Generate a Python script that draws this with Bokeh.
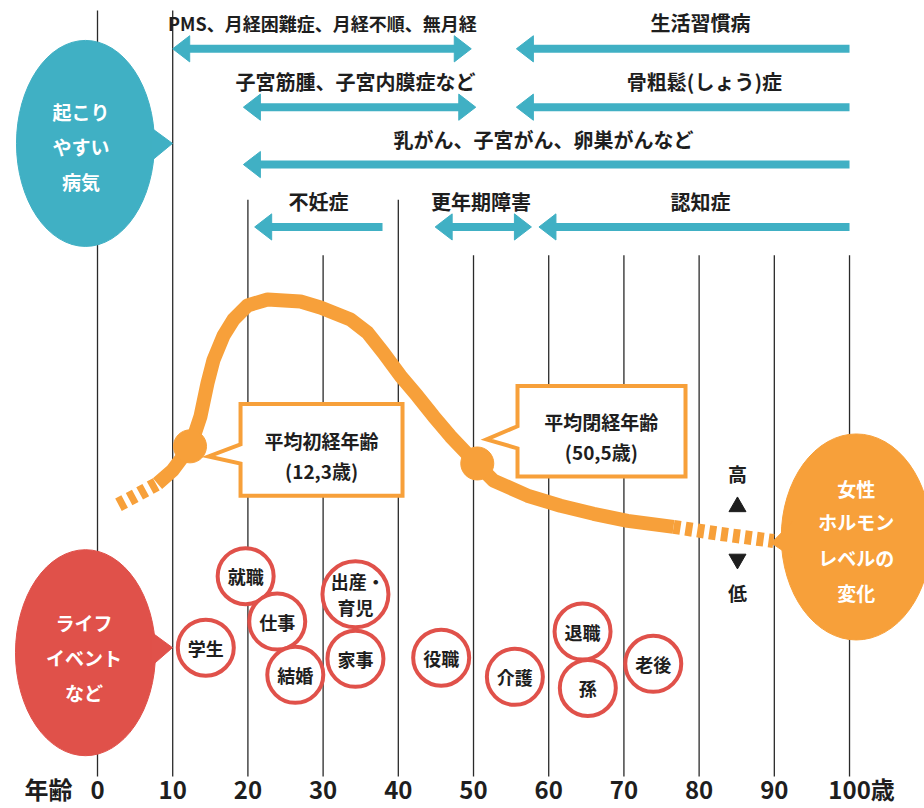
from bokeh.plotting import figure
from bokeh.models import Range1d, FixedTicker
from bokeh.embed import file_html
from bokeh.resources import INLINE
from bokeh.core.properties import value

FONT = "Noto Sans CJK JP"
TEAL = "#40B0C4"
ORANGE = "#F7A03A"
RED = "#E0514A"
INK = "#1E1E1E"
GRID = "#2A2A2A"

PX = 7.52  # screen pixels per year (for converting style sizes)

# ---------------- data ----------------
grid_ages = [0, 10, 20, 30, 40, 50, 60, 70, 80, 90, 100]
grid_top = [10, 10, 198, 253, 198, 253, 253, 253, 253, 253, 253]
grid_bottom = [773] * 11

tick_pos = [-6.5, 0, 10, 20, 30, 40, 50, 60, 70, 80, 90, 101.6]
tick_text = ["年齢", "0", "10", "20", "30", "40", "50", "60", "70", "80", "90", "100歳"]

# diseases: arrows (start age, end age, row level, double-headed)
arrow_start = [10.0, 55.7, 19.4, 55.7, 19.4, 20.9, 44.9, 58.7]
arrow_end = [49.7, 100, 50.3, 100, 100, 37.9, 57.7, 100]
arrow_row = [48, 48, 106, 106, 163, 225, 225, 225]
arrow_both = [True, False, True, False, False, False, True, False]

disease_names = ["PMS、月経困難症、月経不順、無月経", "生活習慣病",
                 "子宮筋腫、子宮内膜症など", "骨粗鬆(しょう)症",
                 "乳がん、子宮がん、卵巣がんなど",
                 "不妊症", "更年期障害", "認知症"]
disease_x = [29.9, 80.2, 34.3, 80.7, 59.3, 29.4, 51.0, 80.2]
disease_y = [22, 22, 80, 80, 138, 200, 200, 200]
disease_fs = ["18px", "20px", "20px", "20px", "20px", "20px", "20px", "20px"]

# female hormone level curve (age, level on chart scale)
dash_l_age = [2.79, 5.05, 7.98]
dash_l_lvl = [501, 492, 480]
curve_age = [7.98, 9.97, 12.37, 13.70, 14.63, 15.43, 16.76, 18.09, 19.95, 22.61,
             27.0, 29.65, 33.64, 35.90, 38.03, 40.29, 42.55, 44.68, 46.94, 50.0,
             52.66, 57.18, 61.57, 65.96, 70.48, 76.60]
curve_lvl = [480, 467, 443, 413, 380, 357, 333, 317, 303, 297,
             299, 305, 317, 330, 350, 373, 393, 413, 433, 457,
             477, 492, 502, 510, 517, 523]
dash_r_age = [76.60, 82.85, 89.89]
dash_r_lvl = [523, 530, 537]

mark_age = [12.3, 50.5]
mark_lvl = [443, 460]

# life events
event_names = ["学生", "就職", "仕事", "結婚", "", "家事", "役職", "介護", "退職", "孫", "老後"]
event_age = [14.4, 19.7, 23.9, 26.3, 34.3, 34.3, 45.7, 55.5, 64.5, 65.2, 73.9]
event_y = [643, 572, 617, 670, 590, 654, 653, 672, 627, 683, 659]
event_size = [56, 56, 56, 56, 66, 56, 56, 56, 56, 56, 56]
event2_lines = ["出産・", "育児"]
event2_age = [34.6, 34.3]
event2_y = [577, 603]

# ---------------- figure ----------------
FRAME_BOTTOM = 771
p = figure(width=924, height=808, x_range=Range1d(-12.899, 109.97),
           y_range=Range1d(FRAME_BOTTOM, 0), y_axis_location=None,
           toolbar_location=None, output_backend="svg",
           min_border_left=0, min_border_right=0, min_border_top=0,
           min_border_bottom=0)
p.outline_line_color = None
p.grid.visible = False
p.background_fill_color = "white"

ax = p.xaxis[0]
ax.ticker = FixedTicker(ticks=tick_pos)
ax.major_label_overrides = {t: s for t, s in zip(tick_pos, tick_text)}
ax.axis_line_color = None
ax.major_tick_line_color = None
ax.minor_tick_line_color = None
ax.major_tick_out = 0
ax.major_tick_in = 0
ax.major_label_standoff = -6
ax.major_label_text_font = FONT
ax.major_label_text_font_style = "bold"
ax.major_label_text_font_size = "24px"
ax.major_label_text_color = INK

# grid lines
p.segment(x0=grid_ages, y0=grid_top, x1=grid_ages, y1=grid_bottom,
          line_color=GRID, line_width=1.3)

# disease arrows
HL = 17 / PX
HH = 26
heads_xs, heads_ys = [], []
sx0, sx1, sy = [], [], []
for s, e, y, both in zip(arrow_start, arrow_end, arrow_row, arrow_both):
    heads_xs.append([s, s + HL, s + HL])
    heads_ys.append([y, y - HH / 2, y + HH / 2])
    x1 = e
    if both:
        heads_xs.append([e, e - HL, e - HL])
        heads_ys.append([y, y - HH / 2, y + HH / 2])
        x1 = e - HL * 0.5
    sx0.append(s + HL * 0.5)
    sx1.append(x1)
    sy.append(y)
p.segment(x0=sx0, y0=sy, x1=sx1, y1=sy, line_color=TEAL, line_width=8, line_cap="butt")
p.patches(heads_xs, heads_ys, fill_color=TEAL, line_color=TEAL, line_width=1)

p.text(x=disease_x, y=disease_y, text=disease_names, text_font=value(FONT),
       text_font_style="bold", text_font_size=disease_fs, text_color=INK,
       text_align="center", text_baseline="middle")

# hormone curve
p.line(dash_l_age, dash_l_lvl, line_color=ORANGE, line_width=14, line_dash="7 5")
p.line(curve_age, curve_lvl, line_color=ORANGE, line_width=14, line_join="round")
p.line(dash_r_age, dash_r_lvl, line_color=ORANGE, line_width=14, line_dash="7 5")
p.scatter(mark_age, mark_lvl, marker="circle", size=33, fill_color=ORANGE, line_color=ORANGE)

# callout boxes
b1 = dict(l=19.02, r=40.56, t=401, b=492, tip=14.76, ty=453, n1=441, n2=460)
b2 = dict(l=55.85, r=78.19, t=383, b=473, tip=51.73, ty=436, n1=423, n2=445)
cx, cy = [], []
for b in (b1, b2):
    cx.append([b["l"], b["r"], b["r"], b["l"], b["l"], b["tip"], b["l"]])
    cy.append([b["t"], b["t"], b["b"], b["b"], b["n2"], b["ty"], b["n1"]])
p.patches(cx, cy, fill_color="white", line_color=ORANGE, line_width=4, line_join="miter")
call_text = ["平均初経年齢", "(12,3歳)", "平均閉経年齢", "(50,5歳)"]
call_x = [29.8, 29.8, 67.0, 67.0]
call_y = [437, 467, 418, 448]
p.text(x=call_x, y=call_y, text=call_text, text_font=value(FONT), text_font_style="bold",
       text_font_size="19px", text_color=INK, text_align="center", text_baseline="middle")

# speech bubbles
bub_x = [-1.6, -1.6, 100.9]
bub_y = [142, 648, 533]
bub_w = [138, 140, 150]
bub_c = [TEAL, RED, ORANGE]
p.ellipse(x=bub_x, y=bub_y, width=bub_w, height=206, width_units="screen",
          height_units="screen", fill_color=bub_c, line_color=bub_c)
ptr_xs = [[7.05, 9.97, 7.05], [7.05, 9.97, 7.05], [92.4, 89.6, 92.4]]
ptr_ys = [[126, 142, 160], [627, 643, 662], [518, 539, 553]]
p.patches(ptr_xs, ptr_ys, fill_color=bub_c, line_color=bub_c)

bub_text = ["起こり", "やすい", "病気", "ライフ", "イベント", "など",
            "女性", "ホルモン", "レベルの", "変化"]
bub_tx = [-2.2, -2.2, -2.2, -1.8, -1.8, -1.8, 100.9, 100.9, 100.9, 100.9]
bub_ty = [110, 145, 180, 618, 653, 688, 485, 518, 553, 588]
p.text(x=bub_tx, y=bub_ty, text=bub_text, text_font=value(FONT), text_font_style="bold",
       text_font_size="19px", text_color="white", text_align="center", text_baseline="middle")

# high / low indicator
p.scatter([85.1], [503], marker="triangle", size=17, fill_color=INK, line_color=INK)
p.scatter([85.1], [555], marker="inverted_triangle", size=17, fill_color=INK, line_color=INK)
p.text(x=[85.1, 85.1], y=[470, 588], text=["高", "低"], text_font=value(FONT),
       text_font_style="bold", text_font_size="19px", text_color=INK,
       text_align="center", text_baseline="middle")

# life events
p.scatter(event_age, event_y, marker="circle", size=event_size, fill_color="white",
          line_color=RED, line_width=4)
p.text(x=event_age, y=event_y, text=event_names, text_font=value(FONT), text_font_style="bold",
       text_font_size="18px", text_color=INK, text_align="center", text_baseline="middle")
p.text(x=event2_age, y=event2_y, text=event2_lines, text_font=value(FONT), text_font_style="bold",
       text_font_size="18px", text_color=INK, text_align="center", text_baseline="middle")

open("out.html", "w").write(file_html(p, INLINE))
